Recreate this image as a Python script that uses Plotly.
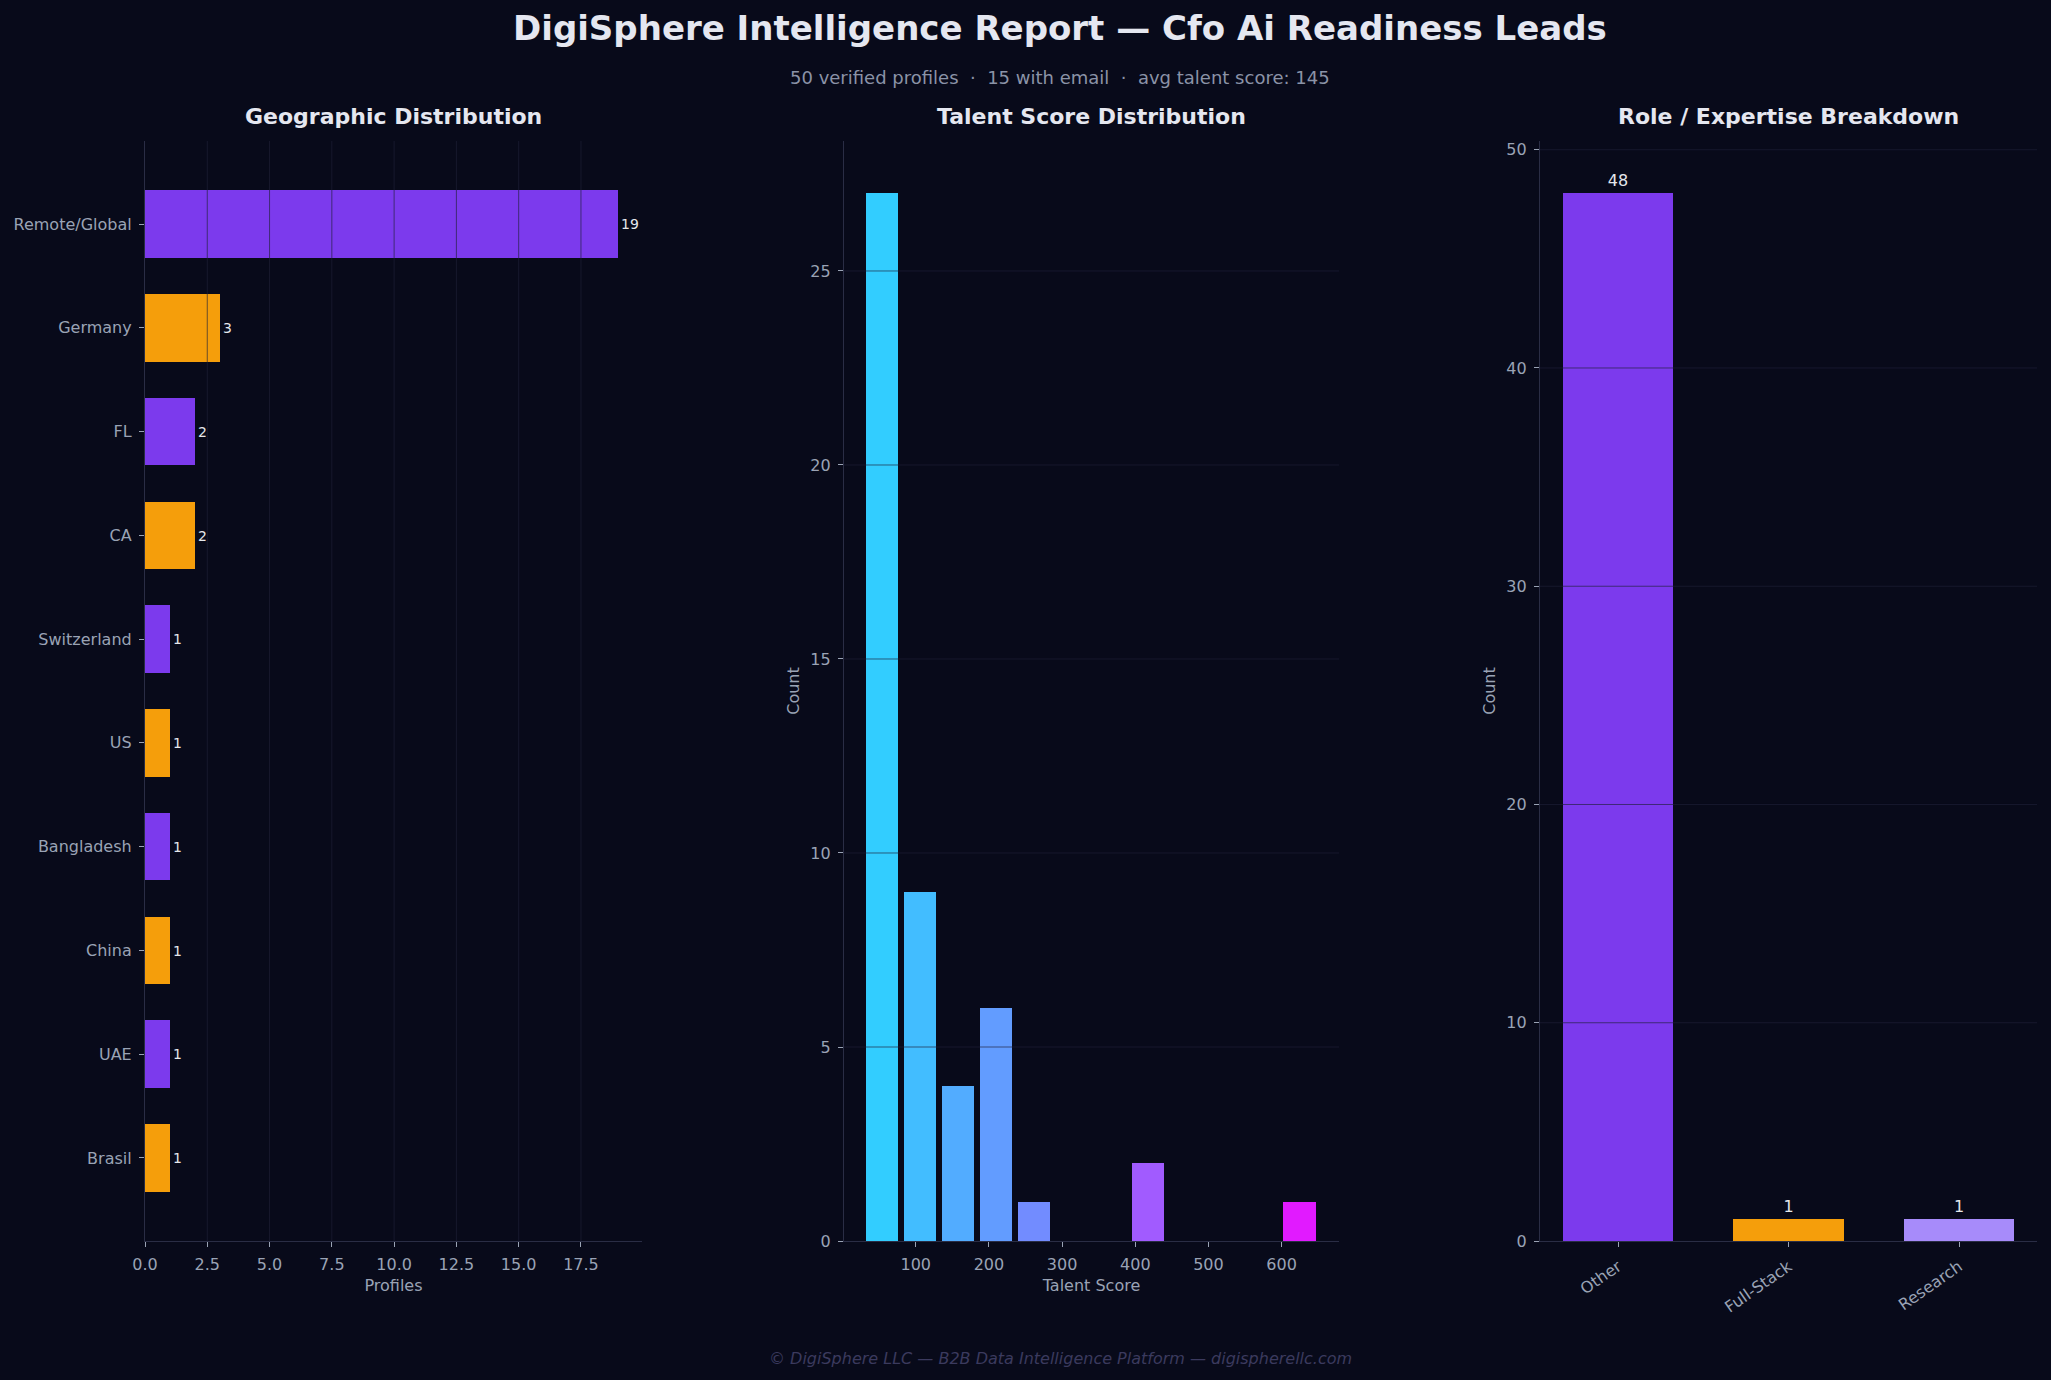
import plotly.graph_objects as go

# ---------------- data ----------------
geo_locations = ["Remote/Global", "Germany", "FL", "CA", "Switzerland", "US",
                 "Bangladesh", "China", "UAE", "Brasil"]
geo_counts = [19, 3, 2, 2, 1, 1, 1, 1, 1, 1]

score_bin_edges = [27.9, 79.8, 131.7, 183.6, 235.5, 287.4, 339.3, 391.2,
                   443.1, 495.0, 546.9, 598.8, 650.7]
score_counts = [27, 9, 4, 6, 1, 0, 0, 2, 0, 0, 0, 1]

roles = ["Other", "Full-Stack", "Research"]
role_counts = [48, 1, 1]

geo_xticks = [0, 2.5, 5, 7.5, 10, 12.5, 15, 17.5]
score_xticks = [100, 200, 300, 400, 500, 600]
score_yticks = [0, 5, 10, 15, 20, 25]
role_yticks = [0, 10, 20, 30, 40, 50]

title = "DigiSphere Intelligence Report — Cfo Ai Readiness Leads"
subtitle = "50 verified profiles  ·  15 with email  ·  avg talent score: 145"
footer = "© DigiSphere LLC — B2B Data Intelligence Platform — digispherellc.com"

# ---------------- style ----------------
BG = "#080a1a"
PURPLE = "#7c3aed"
ORANGE = "#f59e0b"
LIGHT_PURPLE = "#a78bfa"
TICK_COLOR = "#9aa3b5"
SPINE = "#2a2d45"
GRID = "rgba(30,32,55,0.65)"
LABEL = "#e5e7eb"
FONT = "DejaVu Sans"
TICK_SIZE = 16

W, H = 2051, 1380
y_dom = [1 - 1241 / H, 1 - 141 / H]
x1_dom = [145 / W, 642 / W]
x2_dom = [844 / W, 1339 / W]
x3_dom = [1540 / W, 2037 / W]


def lerp_color(c0, c1, t):
    r = round(c0[0] + (c1[0] - c0[0]) * t)
    g = round(c0[1] + (c1[1] - c0[1]) * t)
    b = round(c0[2] + (c1[2] - c0[2]) * t)
    return f"rgb({r},{g},{b})"


fig = go.Figure()

# Panel 1: geographic (horizontal bars)
geo_colors = [PURPLE if i % 2 == 0 else ORANGE for i in range(len(geo_locations))]
fig.add_trace(go.Bar(
    x=geo_counts, y=geo_locations, orientation="h",
    marker=dict(color=geo_colors, line=dict(width=0)),
    width=0.65, text=[str(v) for v in geo_counts], textposition="outside",
    textfont=dict(color=LABEL, size=14, family=FONT), cliponaxis=False,
    xaxis="x", yaxis="y", showlegend=False,
))

# Panel 2: histogram of talent scores
n_bins = len(score_counts)
centers = [(score_bin_edges[i] + score_bin_edges[i + 1]) / 2 for i in range(n_bins)]
widths = [(score_bin_edges[i + 1] - score_bin_edges[i]) * 0.86 for i in range(n_bins)]
hist_colors = [lerp_color((50, 205, 255), (225, 26, 255), i / (n_bins - 1)) for i in range(n_bins)]
fig.add_trace(go.Bar(
    x=centers, y=score_counts, width=widths,
    marker=dict(color=hist_colors, line=dict(width=0)),
    xaxis="x2", yaxis="y2", showlegend=False,
))

# Panel 3: role breakdown
fig.add_trace(go.Bar(
    x=roles, y=role_counts, width=0.65,
    marker=dict(color=[PURPLE, ORANGE, LIGHT_PURPLE], line=dict(width=0)),
    text=[str(v) for v in role_counts], textposition="outside",
    textfont=dict(color=LABEL, size=16, family=FONT), cliponaxis=False,
    xaxis="x3", yaxis="y3", showlegend=False,
))

axis_common = dict(
    showline=True, linecolor=SPINE, linewidth=1.2, ticks="outside",
    ticklen=5, tickwidth=1.2, tickcolor=TICK_COLOR,
    tickfont=dict(color=TICK_COLOR, size=TICK_SIZE, family=FONT),
    showgrid=False, zeroline=False, mirror=False, automargin=False,
    ticklabelstandoff=4,
)
axis_title_font = dict(size=16, color=TICK_COLOR, family=FONT)

fig.update_layout(
    template="none",
    width=W, height=H,
    margin=dict(l=0, r=0, t=0, b=0, autoexpand=False),
    paper_bgcolor=BG, plot_bgcolor=BG,
    font=dict(family=FONT, color=TICK_COLOR),
    bargap=0,
    xaxis=dict(domain=x1_dom, anchor="y", range=[0, 19.95], tickvals=geo_xticks,
               tickformat=".1f",
               title=dict(text="Profiles", font=axis_title_font, standoff=6),
               **axis_common),
    yaxis=dict(domain=y_dom, anchor="x", type="category", range=[9.8, -0.8],
               **axis_common),
    xaxis2=dict(domain=x2_dom, anchor="y2", range=[1.9, 678.4], tickvals=score_xticks,
                title=dict(text="Talent Score", font=axis_title_font, standoff=6),
                **axis_common),
    yaxis2=dict(domain=y_dom, anchor="x2", range=[0, 28.35], tickvals=score_yticks,
                title=dict(text="Count", font=axis_title_font, standoff=6),
                **axis_common),
    xaxis3=dict(domain=x3_dom, anchor="y3", range=[-0.4575, 2.4575], tickangle=-35,
                **axis_common),
    yaxis3=dict(domain=y_dom, anchor="x3", range=[0, 50.4], tickvals=role_yticks,
                title=dict(text="Count", font=axis_title_font, standoff=6),
                **axis_common),
)

# gridlines drawn above bars (as in reference)
shapes = []
for v in geo_xticks:
    if v == 0:
        continue
    shapes.append(dict(type="line", xref="x", yref="y domain", x0=v, x1=v, y0=0, y1=1,
                       line=dict(color=GRID, width=1), layer="above"))
for v in score_yticks:
    if v == 0:
        continue
    shapes.append(dict(type="line", xref="x2 domain", yref="y2", x0=0, x1=1, y0=v, y1=v,
                       line=dict(color=GRID, width=1), layer="above"))
for v in role_yticks:
    if v == 0:
        continue
    shapes.append(dict(type="line", xref="x3 domain", yref="y3", x0=0, x1=1, y0=v, y1=v,
                       line=dict(color=GRID, width=1), layer="above"))
fig.update_layout(shapes=shapes)

annotations = [
    dict(text=f"<b>{title}</b>", x=0.517, y=1 - 28 / H, xref="paper", yref="paper",
         showarrow=False, xanchor="center", yanchor="middle",
         font=dict(size=34, color="#e5e7f0", family=FONT)),
    dict(text=subtitle, x=0.517, y=1 - 77 / H, xref="paper", yref="paper",
         showarrow=False, xanchor="center", yanchor="middle",
         font=dict(size=18, color="#8b93a7", family=FONT)),
    dict(text=f"<i>{footer}</i>", x=0.517, y=1 - 1358 / H, xref="paper", yref="paper",
         showarrow=False, xanchor="center", yanchor="middle",
         font=dict(size=16, color="#3b3a5e", family=FONT)),
]
for dom, txt in [(x1_dom, "Geographic Distribution"),
                 (x2_dom, "Talent Score Distribution"),
                 (x3_dom, "Role / Expertise Breakdown")]:
    annotations.append(dict(text=f"<b>{txt}</b>", x=(dom[0] + dom[1]) / 2, y=1 - 116 / H,
                            xref="paper", yref="paper", showarrow=False,
                            xanchor="center", yanchor="middle",
                            font=dict(size=22, color="#e5e7f0", family=FONT)))
fig.update_layout(annotations=annotations)

fig.write_html(
    "out.html",
    config={"displayModeBar": False},
    post_script=(
        "document.documentElement.style.margin='0';"
        "document.documentElement.style.padding='0';"
        f"document.documentElement.style.background='{BG}';"
        "document.body.style.margin='0';"
        "document.body.style.padding='0';"
        f"document.body.style.background='{BG}';"
        "document.body.style.overflow='hidden';"
        "var d=document.getElementById('{plot_id}');"
        "if(d){d.style.position='fixed';d.style.left='0px';d.style.top='0px';}"
    ),
)
